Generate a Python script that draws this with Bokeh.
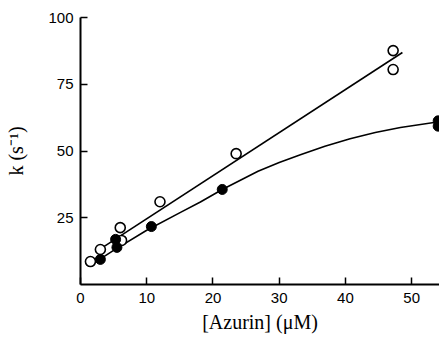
from bokeh.plotting import figure
from bokeh.models import FixedTicker, Range1d
from bokeh.embed import file_html
from bokeh.resources import INLINE

# open circles
open_x = [1.5, 3.0, 6.0, 6.2, 12.0, 23.5, 47.2, 47.2]
open_y = [8.6, 13.1, 21.3, 16.5, 31.0, 49.0, 87.6, 80.5]
# filled circles
filled_x = [3.0, 5.3, 5.5, 10.7, 21.4, 54.0, 54.0]
filled_y = [9.4, 16.9, 13.9, 21.7, 35.6, 61.3, 59.3]
# straight fit line (open circles)
line_x = [2.6, 48.6]
line_y = [12.7, 86.9]
# curved fit (filled circles)
curve_x = [2.0, 5.0, 10.0, 15.1, 18.1, 21.4, 26.8, 30.0, 33.2, 36.9, 40.7, 44.5, 48.3, 54.2]
curve_y = [8.0, 12.8, 20.3, 27.0, 30.9, 35.6, 42.4, 45.7, 48.6, 51.8, 54.6, 56.9, 58.8, 61.0]

x_ticks = [0, 10, 20, 30, 40, 50]
y_ticks = [25, 50, 75, 100]

p = figure(width=439, height=337, output_backend="svg", toolbar_location=None,
           x_range=Range1d(0, 54.2), y_range=Range1d(0, 100),
           min_border_left=80, min_border_right=0, min_border_top=17,
           min_border_bottom=53)
p.outline_line_color = None
p.grid.visible = False
p.background_fill_color = "white"
p.border_fill_color = "white"

p.line(line_x, line_y, line_color="black", line_width=1.6)
p.line(curve_x, curve_y, line_color="black", line_width=1.6)
p.scatter(open_x, open_y, size=10, marker="circle", fill_color="white",
          line_color="black", line_width=1.6)
p.scatter(filled_x, filled_y, size=10, marker="circle", fill_color="black",
          line_color="black", line_width=1)

for ax in (p.xaxis[0], p.yaxis[0]):
    ax.axis_line_width = 2
    ax.axis_line_color = "black"
    ax.major_tick_in = 7
    ax.major_tick_out = 0
    ax.major_tick_line_width = 1.5
    ax.minor_tick_line_color = None
    ax.major_label_text_font = "Liberation Sans"
    ax.major_label_text_font_size = "15px"
    ax.major_label_text_color = "black"
    ax.axis_label_text_font = "Liberation Serif"
    ax.axis_label_text_font_style = "normal"
    ax.axis_label_text_color = "black"

p.xaxis[0].ticker = FixedTicker(ticks=x_ticks)
p.yaxis[0].ticker = FixedTicker(ticks=y_ticks)
p.xaxis[0].major_label_standoff = 8
p.yaxis[0].major_label_standoff = 7
p.xaxis[0].axis_label = "[Azurin] (\u03bcM)"
p.xaxis[0].axis_label_text_font_size = "20px"
p.xaxis[0].axis_label_standoff = 5
p.yaxis[0].axis_label = "k (s\u207b\u00b9)"
p.yaxis[0].axis_label_text_font_size = "20px"
p.yaxis[0].axis_label_standoff = 18

open("out.html", "w").write(file_html(p, INLINE))
